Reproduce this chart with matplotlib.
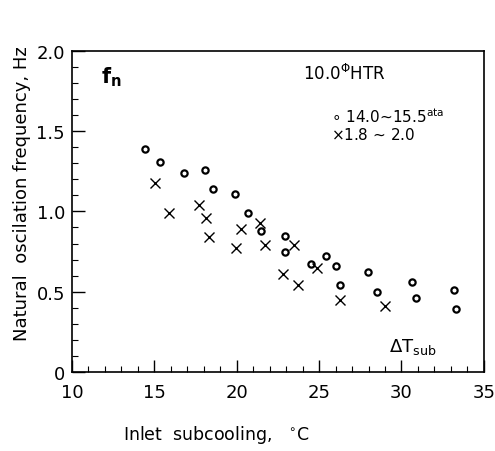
import matplotlib.pyplot as plt
from matplotlib.ticker import MultipleLocator, FixedFormatter, FixedLocator

# High pressure series (14.0~15.5 ata), circles
hp_x = [14.4, 15.36, 16.8, 18.07, 18.55, 19.9, 20.66, 21.45, 22.95, 22.95,
        24.5, 25.4, 26.0, 26.27, 27.95, 28.5, 30.66, 30.9, 33.2, 33.3]
hp_y = [1.39, 1.31, 1.24, 1.26, 1.14, 1.11, 0.99, 0.88, 0.85, 0.75,
        0.67, 0.72, 0.66, 0.54, 0.62, 0.50, 0.56, 0.46, 0.51, 0.39]

# Low pressure series (1.8~2.0 ata), crosses
lp_x = [15.06, 15.9, 17.7, 18.13, 18.3, 19.94, 20.24, 21.4, 21.7, 23.5,
        22.8, 23.7, 24.9, 26.27, 28.97]
lp_y = [1.175, 0.99, 1.04, 0.96, 0.84, 0.77, 0.89, 0.93, 0.79, 0.79,
        0.61, 0.54, 0.65, 0.45, 0.41]

x_ticks = [10, 15, 20, 25, 30, 35]
y_ticks = [0, 0.5, 1.0, 1.5, 2.0]
y_labels = ['0', '0.5', '1.0', '1.5', '2.0']

fig = plt.figure(figsize=(4.95, 4.52), dpi=100)
ax = fig.add_axes([0.1455, 0.175, 0.832, 0.710])

ax.plot(hp_x, hp_y, 'o', ms=4.5, mfc='white', mec='black', mew=1.6)
ax.plot(lp_x, lp_y, 'x', ms=7, color='black', mew=1.0)

ax.set_xlim(10, 35)
ax.set_ylim(0, 2.0)
ax.xaxis.set_major_locator(FixedLocator(x_ticks))
ax.xaxis.set_minor_locator(MultipleLocator(1))
ax.yaxis.set_major_locator(FixedLocator(y_ticks))
ax.yaxis.set_major_formatter(FixedFormatter(y_labels))
ax.yaxis.set_minor_locator(MultipleLocator(0.1))
ax.tick_params(which='major', direction='in', length=9, width=1.0, labelsize=13,
               top=False, right=False)
ax.tick_params(axis='x', which='major', pad=8)
ax.tick_params(axis='y', which='major', pad=5)
ax.tick_params(which='minor', direction='in', length=4, width=0.8,
               top=False, right=False)
for s in ax.spines.values():
    s.set_linewidth(1.2)

ax.set_xlabel('Inlet  subcooling,   $^{\\circ}$C', fontsize=12.5, labelpad=16, x=0.35)
ax.set_ylabel('Natural  oscilation frequency, Hz', fontsize=13, labelpad=4, y=0.56)

ax.text(0.07, 0.92, '$\\mathbf{f_n}$', transform=ax.transAxes, fontsize=15,
        va='center', ha='left')
ax.text(0.56, 0.93, '10.0$^{\\Phi}$HTR', transform=ax.transAxes, fontsize=12,
        va='center', ha='left')
ax.text(0.63, 0.80, '$\\circ$ 14.0~15.5$^{\\mathrm{ata}}$', transform=ax.transAxes,
        fontsize=11, va='center', ha='left')
ax.text(0.63, 0.74, '$\\times$1.8 ~ 2.0', transform=ax.transAxes,
        fontsize=11, va='center', ha='left')
ax.text(0.77, 0.08, '$\\Delta$T$_{\\mathrm{sub}}$', transform=ax.transAxes,
        fontsize=13, va='center', ha='left')

fig.savefig('out.png', dpi=100)
